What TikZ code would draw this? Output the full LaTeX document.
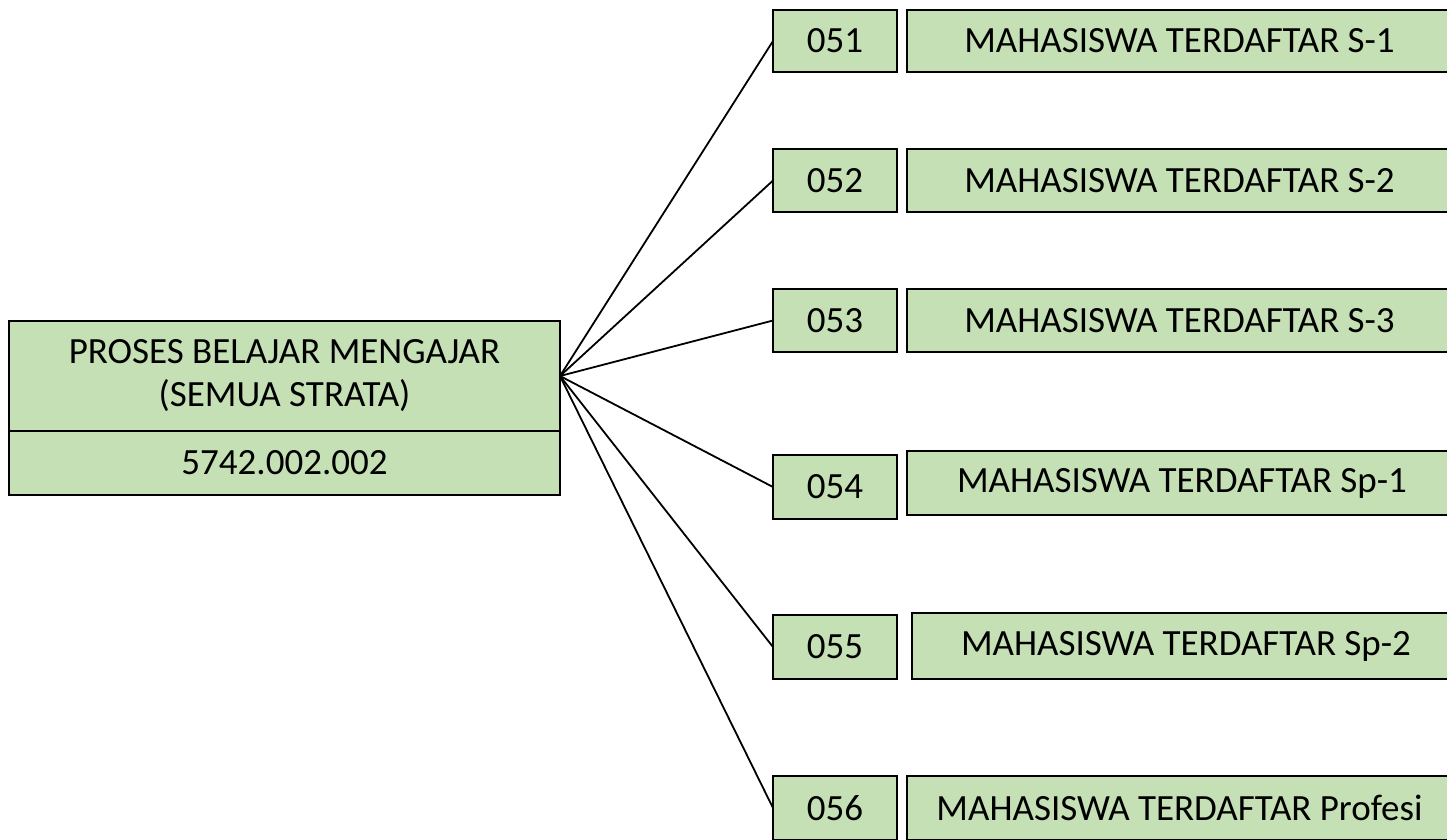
\documentclass[tikz,border=0pt]{standalone}
\usepackage{fontspec}
\setmainfont{Carlito}
\definecolor{boxgreen}{HTML}{C5E0B4}
\tikzset{
  gbox/.style={draw=black, fill=boxgreen, line width=1.6pt, inner sep=0pt, outer sep=0pt,
    align=center, font=\fontsize{37}{43}\selectfont},
  link/.style={draw=black, line width=1.8pt}
}
\begin{document}
\begin{tikzpicture}[x=1pt,y=-1pt]
\useasboundingbox (0,0) rectangle (1447,839);
\clip (0,0) rectangle (1447,839);
% main box
\node[gbox, minimum width=551pt, minimum height=110pt] (mainT) at (284.5,376) {PROSES BELAJAR MENGAJAR\\(SEMUA STRATA)};
\node[gbox, minimum width=551pt, minimum height=64pt] (mainB) at (284.5,463) {5742.002.002};
% small code boxes
\node[gbox, minimum width=124pt, minimum height=62pt] (c1) at (835,41) {051};
\node[gbox, minimum width=124pt, minimum height=63pt] (c2) at (835,180.5) {052};
\node[gbox, minimum width=124pt, minimum height=63pt] (c3) at (835,320.5) {053};
\node[gbox, minimum width=124pt, minimum height=64pt] (c4) at (835,487) {054};
\node[gbox, minimum width=124pt, minimum height=64pt] (c5) at (835,647) {055};
\node[gbox, minimum width=124pt, minimum height=64pt] (c6) at (835,808) {056};
% name boxes
\node[gbox, minimum width=545pt, minimum height=62pt] (n1) at (1179.5,41) {MAHASISWA TERDAFTAR S-1};
\node[gbox, minimum width=545pt, minimum height=63pt] (n2) at (1179.5,180.5) {MAHASISWA TERDAFTAR S-2};
\node[gbox, minimum width=545pt, minimum height=63pt] (n3) at (1179.5,320.5) {MAHASISWA TERDAFTAR S-3};
\node[gbox, minimum width=550pt, minimum height=64pt] (n4) at (1182,483) {MAHASISWA TERDAFTAR Sp-1};
\node[gbox, minimum width=548pt, minimum height=66pt] (n5) at (1186,646) {MAHASISWA TERDAFTAR Sp-2};
\node[gbox, minimum width=545pt, minimum height=64pt] (n6) at (1179.5,808) {MAHASISWA TERDAFTAR Profesi};
% connectors
\foreach \i in {1,...,6}{
  \draw[link] (mainT.east) -- (c\i.west);
}
\end{tikzpicture}
\end{document}
